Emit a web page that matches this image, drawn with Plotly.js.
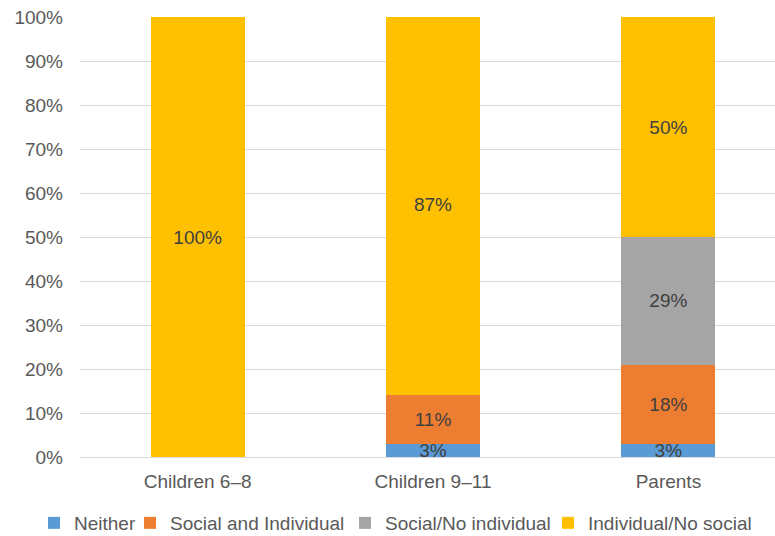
<!DOCTYPE html>
<html><head><meta charset="utf-8">
<script src="https://cdn.plot.ly/plotly-3.0.1.min.js"></script>
<style>html,body{margin:0;padding:0;background:#fff;}#chart{width:775px;height:536px;}</style>
</head><body><div id="chart"></div>
<script>
var categories = ["Children 6\u20138", "Children 9\u201311", "Parents"];
var seriesNames = ["Neither", "Social and Individual", "Social/No individual", "Individual/No social"];
var neither = [null, 3, 3];
var socialAndIndividual = [null, 11, 18];
var socialNoIndividual = [null, null, 29];
var individualNoSocial = [100, 87, 50];
var yTickVals = [0, 10, 20, 30, 40, 50, 60, 70, 80, 90, 100];
var yTickText = ["0%", "10%", "20%", "30%", "40%", "50%", "60%", "70%", "80%", "90%", "100%"];
var colors = ["#5B9BD5", "#ED7D31", "#A5A5A5", "#FFC000"];

var allSeries = [neither, socialAndIndividual, socialNoIndividual, individualNoSocial];
var legendIds = ["legend", "legend2", "legend3", "legend4"];
var legendX = [34, 130, 345, 548];
var font = "Liberation Sans, Arial, sans-serif";
var traces = allSeries.map(function (vals, i) {
  return {
    type: "bar",
    name: seriesNames[i],
    legend: legendIds[i],
    x: categories,
    y: vals,
    width: 0.4,
    marker: {color: colors[i], line: {width: 0}},
    text: vals.map(function (v) { return v == null ? "" : v + "%"; }),
    textposition: "inside",
    insidetextanchor: "middle",
    textangle: 0,
    constraintext: "none",
    textfont: {family: font, size: 19, color: "#404040"},
    hoverinfo: "skip"
  };
});

var layout = {
  width: 775, height: 536,
  barmode: "stack",
  margin: {l: 80, r: 0, t: 17, b: 79},
  paper_bgcolor: "#fff", plot_bgcolor: "#fff",
  font: {family: font, size: 19, color: "#595959"},
  showlegend: true,
  xaxis: {
    type: "category",
    range: [-0.5, 2.453],
    showgrid: false,
    showline: true, linecolor: "#d9d9d9", linewidth: 1,
    ticks: "", ticklabelstandoff: 7,
    tickfont: {family: font, size: 19, color: "#595959"},
    fixedrange: true
  },
  yaxis: {
    range: [0, 100],
    tickvals: yTickVals, ticktext: yTickText,
    showgrid: true, gridcolor: "#d9d9d9", gridwidth: 1,
    zeroline: false, showline: false,
    ticks: "", ticklabelstandoff: 16,
    tickfont: {family: font, size: 19, color: "#595959"},
    fixedrange: true
  }
};
legendIds.forEach(function (id, i) {
  layout[id] = {
    orientation: "h",
    xref: "container", yref: "container",
    x: legendX[i] / 775, xanchor: "left",
    y: 13 / 536, yanchor: "middle",
    itemwidth: 30,
    bgcolor: "rgba(0,0,0,0)",
    font: {family: font, size: 19, color: "#595959"}
  };
});
Plotly.newPlot("chart", traces, layout, {displayModeBar: false, staticPlot: true});
</script></body></html>
